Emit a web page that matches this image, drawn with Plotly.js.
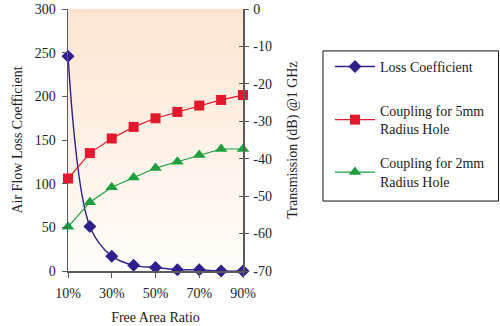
<!DOCTYPE html>
<html>
<head>
<meta charset="utf-8">
<script src="https://cdn.plot.ly/plotly-3.0.1.min.js"></script>
<style>html,body{margin:0;padding:0;background:#fff;}#chart{width:500px;height:326px;}</style>
</head>
<body>
<div id="chart"></div>
<script>
// Data
const freeAreaRatio = [10, 20, 30, 40, 50, 60, 70, 80, 90];          // %
const lossCoefficient = [246, 51, 17, 6.5, 4, 1.5, 1.5, 0, 0];       // left axis
const coupling5mm = [-45.3, -38.5, -34.6, -31.5, -29.2, -27.5, -25.8, -24.3, -23.0]; // dB, right axis
const coupling2mm = [-58.2, -51.6, -47.6, -45.0, -42.5, -40.8, -39.0, -37.4, -37.4]; // dB, right axis
const xTickVals = [10, 30, 50, 70, 90];
const xTickText = ["10%", "30%", "50%", "70%", "90%"];
const y2TickVals = [0, -10, -20, -30, -40, -50, -60, -70];
const y2TickText = ["0", "-10", "-20", "-30", "-40", "-50", "-60", "-70"];
const seriesNames = ["Loss Coefficient", "Coupling for 5mm<br>Radius Hole", "Coupling for 2mm<br>Radius Hole"];

const FONT = "Liberation Serif, Times New Roman, serif";
const AXC = "#5a5a5a";

// vertical gradient background of the plot area, built from stepped bands
const shapes = [];
const N = 60;
const gradTop = [253, 228, 208], gradBot = [255, 253, 250];
for (let i = 0; i < N; i++) {
  const t = i / (N - 1);
  const c = gradTop.map((v, k) => Math.round(v + (gradBot[k] - v) * t));
  shapes.push({type: "rect", xref: "paper", yref: "paper", layer: "below",
    x0: 0, x1: 1, y0: 1 - (i + 1) / N, y1: 1 - i / N + 0.001,
    line: {width: 0}, fillcolor: `rgb(${c[0]},${c[1]},${c[2]})`});
}
// legend frame (both legends sit inside it)
shapes.push({type: "rect", xref: "paper", yref: "paper", layer: "below",
  x0: 1.457, x1: 2.46, y0: 0.267, y1: 0.84, line: {color: "#111", width: 1}, fillcolor: "#ffffff"});

const traces = [
  {x: freeAreaRatio, y: lossCoefficient, name: seriesNames[0], yaxis: "y", legend: "legend",
   mode: "lines+markers", line: {color: "#2e1f8c", width: 1.4, shape: "spline", smoothing: 1},
   marker: {symbol: "diamond", size: 10, color: "#2e1f8c"}, cliponaxis: false},
  {x: freeAreaRatio, y: coupling5mm, name: seriesNames[1], yaxis: "y2", legend: "legend2", legendgroup: "b",
   mode: "lines+markers", line: {color: "#e3182d", width: 1.2},
   marker: {symbol: "square", size: 10, color: "#e3182d"}, cliponaxis: false},
  {x: freeAreaRatio, y: coupling2mm, name: seriesNames[2], yaxis: "y2", legend: "legend2", legendgroup: "c",
   mode: "lines+markers", line: {color: "#1e9e3e", width: 1.2},
   marker: {symbol: "triangle-up", size: 11, color: "#1e9e3e"}, cliponaxis: false},
  // invisible helper trace to give the right axis its inward tick half
  {x: [freeAreaRatio[0]], y: [coupling5mm[0]], yaxis: "y3", showlegend: false, hoverinfo: "skip",
   mode: "markers", marker: {opacity: 0}}
];

const legendFont = {family: FONT, size: 14, color: "#222"};
const layout = {
  width: 500, height: 326,
  margin: {l: 68, r: 257, t: 9, b: 55},
  paper_bgcolor: "#ffffff", plot_bgcolor: "rgba(0,0,0,0)",
  font: {family: FONT, size: 14, color: "#222"},
  shapes: shapes,
  showlegend: true,
  legend: {x: 1.497, xanchor: "left", y: 0.84, yanchor: "top",
    borderwidth: 0, bgcolor: "rgba(0,0,0,0)", font: legendFont, itemwidth: 40},
  legend2: {x: 1.497, xanchor: "left", y: 0.672, yanchor: "top",
    borderwidth: 0, bgcolor: "rgba(0,0,0,0)", font: legendFont, itemwidth: 40, tracegroupgap: 13},
  xaxis: {range: [10, 90], tickmode: "array", tickvals: xTickVals, ticktext: xTickText,
    showgrid: false, zeroline: false, ticklabelstandoff: 4,
    showline: true, linecolor: AXC, linewidth: 1.5, ticks: "outside", ticklen: 5, tickcolor: AXC,
    tickfont: {size: 14}, title: {text: "Free Area Ratio", font: {size: 14}, standoff: 12}},
  yaxis: {range: [0, 300], dtick: 50, showgrid: false, zeroline: false, ticklabelstandoff: 3,
    showline: true, linecolor: AXC, linewidth: 1.5, ticks: "outside", ticklen: 5, tickcolor: AXC,
    tickfont: {size: 14}, title: {text: "Air Flow Loss Coefficient", font: {size: 14}, standoff: 9}},
  yaxis2: {range: [-70, 0], tickmode: "array", tickvals: y2TickVals, ticktext: y2TickText,
    overlaying: "y", side: "right", anchor: "x", showgrid: false, zeroline: false, ticklabelstandoff: 2,
    showline: true, linecolor: AXC, linewidth: 1.5, ticks: "outside", ticklen: 4, tickcolor: AXC,
    tickfont: {size: 14}, title: {text: "Transmission (dB) @1 GHz", font: {size: 14}, standoff: 16}},
  yaxis3: {range: [-70, 0], dtick: 10, overlaying: "y", side: "right", anchor: "x", showgrid: false, zeroline: false,
    showline: false, ticks: "inside", ticklen: 4, tickcolor: AXC, showticklabels: false}
};

Plotly.newPlot("chart", traces, layout, {displayModeBar: false, staticPlot: true});
</script>
</body>
</html>
